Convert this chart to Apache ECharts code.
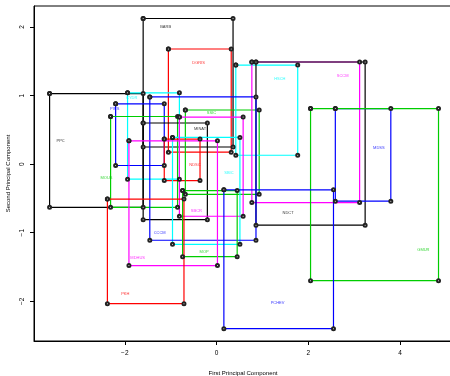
<!DOCTYPE html>
<html>
<head>
<meta charset="utf-8">
<script src="https://cdn.jsdelivr.net/npm/echarts@6/dist/echarts.min.js"></script>
<style>html,body{margin:0;padding:0;background:#fff}#c{width:450px;height:376px}</style>
</head>
<body>
<div id="c"></div>
<script>
var rectNames = ["BARB","DGRIS","PPC","CYDR","PIRS","MOUS","MINAT","NDSC","SSIC","SBIC","HSCH","SCCM","NDCT","MDSS","GMUR","CCCM","SBCR","MOP","MDHUS","PKH","PCHEV"];
var xLow  = [-1.60,-1.05,-3.64,-1.94,-2.20,-2.31,-1.60,-1.14,-0.68,-0.96, 0.42, 0.77, 0.86, 2.59, 2.05,-1.455,-0.81,-0.74,-1.91,-2.38, 0.16];
var xHigh = [ 0.36, 0.32,-1.60,-0.81,-1.14,-0.85,-0.20,-0.36, 0.93, 0.51, 1.77, 3.12, 3.24, 3.80, 4.84, 0.86, 0.58, 0.45, 0.02,-0.71, 2.55];
var yLow  = [ 0.25, 0.175,-0.63,-0.22,-0.02,-0.63,-0.81,-0.24,-0.44,-1.17, 0.13,-0.56,-0.89,-0.54,-1.70,-1.11,-0.76,-1.35,-1.48,-2.035,-2.40];
var yHigh = [ 2.125,1.68, 1.03, 1.04, 0.88, 0.695,0.60, 0.365,0.79, 0.39, 1.445,1.49, 1.49, 0.81, 0.81, 0.98, 0.686,-0.385,0.34,-0.51,-0.375];
var labelX = [-1.11,-0.39,-3.40,-1.85,-2.22,-2.40,-0.36,-0.47,-0.11, 0.27, 1.38, 2.75, 1.56, 3.54, 4.51,-1.24,-0.44,-0.27,-1.72,-1.99, 1.33];
var labelY = [ 2.00, 1.48, 0.34, 0.96, 0.80,-0.20, 0.515,-0.01,0.745,-0.13, 1.24, 1.285,-0.71,0.23,-1.255,-1.00,-0.686,-1.28,-1.37,-1.90,-2.03];
var xTicks = [-2, 0, 2, 4];
var yTicks = [-2, -1, 0, 1, 2];

var colorOf = {
  "BARB":"#000000","DGRIS":"#FF0000","PPC":"#000000","CYDR":"#00FFFF","PIRS":"#0000FF",
  "MOUS":"#00CD00","MINAT":"#000000","NDSC":"#FF0000","SSIC":"#00CD00","SBIC":"#00FFFF",
  "HSCH":"#00FFFF","SCCM":"#FF00FF","NDCT":"#000000","MDSS":"#0000FF","GMUR":"#00CD00",
  "CCCM":"#0000FF","SBCR":"#FF00FF","MOP":"#00CD00","MDHUS":"#FF00FF","PKH":"#FF0000","PCHEV":"#0000FF"
};

var series = [];
rectNames.forEach(function(n, i){
  var c = colorOf[n];
  series.push({
    type:'line', name:n,
    data:[[xLow[i],yHigh[i]],[xHigh[i],yHigh[i]],[xHigh[i],yLow[i]],[xLow[i],yLow[i]],[xLow[i],yHigh[i]]],
    lineStyle:{color:c,width:1.2},
    symbol:'emptyCircle', symbolSize:3, showSymbol:true,
    itemStyle:{color:'#222',borderColor:'#222',borderWidth:0.8},
    emphasis:{disabled:true}, silent:true, z:2
  });
});
series.push({
  type:'scatter', symbolSize:0, silent:true, z:3,
  data: rectNames.map(function(n,i){
    return {value:[labelX[i],labelY[i]], name:n,
      label:{show:true, position:'inside', formatter:n, color:colorOf[n], fontSize:4, fontFamily:'Liberation Sans'}};
  })
});

var chart = echarts.init(document.getElementById('c'), null, {renderer:'canvas'});
chart.setOption({
  animation:false,
  backgroundColor:'#fff',
  grid:{left:34, right:-2, top:6, bottom:35, show:true, borderColor:'#000', borderWidth:1, containLabel:false, outerBoundsMode:'none'},
  xAxis:{
    type:'value', min:-3.98, max:5.134,
    name:'First Principal Component', nameLocation:'middle', nameGap:29,
    nameTextStyle:{fontSize:6, color:'#000', fontFamily:'Liberation Sans'},
    axisLine:{show:true, onZero:false, lineStyle:{color:'#000', width:1}},
    axisTick:{show:true, length:4, inside:false, customValues:xTicks, lineStyle:{color:'#000'}},
    axisLabel:{show:true, customValues:xTicks, fontSize:6.5, color:'#000', margin:9, fontFamily:'Liberation Sans',
      formatter:function(v){return (v<0?'\u2212':'')+Math.abs(v);}},
    splitLine:{show:false}
  },
  yAxis:{
    type:'value', min:-2.58, max:2.307,
    name:'Second Principal Component', nameLocation:'middle', nameGap:23, nameRotate:90,
    nameTextStyle:{fontSize:6, color:'#000', fontFamily:'Liberation Sans'},
    axisLine:{show:true, onZero:false, lineStyle:{color:'#000', width:1}},
    axisTick:{show:true, length:4, inside:false, customValues:yTicks, lineStyle:{color:'#000'}},
    axisLabel:{show:true, customValues:yTicks, fontSize:6.5, color:'#000', margin:8, rotate:90, fontFamily:'Liberation Sans',
      formatter:function(v){return (v<0?'\u2212':'')+Math.abs(v);}},
    splitLine:{show:false}
  },
  series:series
});
</script>
</body>
</html>
